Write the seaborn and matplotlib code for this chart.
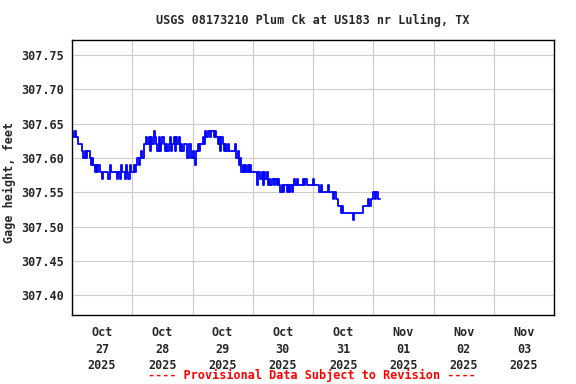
"""
Gage height hydrograph - USGS 08173210 Plum Ck at US183 nr Luling, TX
(provisional 30-min readings, Oct 27 - Nov 01 2025).
"""

import numpy as np
import pandas as pd
import matplotlib
matplotlib.use("Agg")
import matplotlib.pyplot as plt
import matplotlib.dates as mdates
from matplotlib.ticker import FixedLocator, FormatStrFormatter
import seaborn as sns

# gage height = BASE + hundredths, one value every 30 minutes from Oct 27 00:00
BASE = 307.0
oct27 = [64, 63, 64, 63, 63, 62, 62, 62, 61, 60, 61, 60, 61, 61, 60, 59,
         60, 59, 58, 59, 58, 59, 58, 58, 57, 58, 58, 58, 58, 57, 59, 58,
         58, 58, 58, 58, 57, 58, 57, 59, 58, 58, 57, 59, 58, 57, 59, 58]
oct28 = [58, 59, 58, 59, 60, 59, 60, 61, 60, 62, 62, 63, 62, 63, 61, 63,
         62, 64, 63, 62, 61, 63, 61, 62, 63, 62, 61, 62, 61, 62, 63, 61,
         62, 63, 61, 63, 62, 63, 61, 62, 61, 62, 62, 62, 60, 62, 62, 60]
oct29 = [61, 60, 59, 61, 62, 61, 62, 62, 63, 62, 64, 63, 64, 64, 63, 64,
         64, 63, 64, 63, 62, 63, 61, 63, 62, 61, 62, 61, 62, 61, 61, 61,
         61, 61, 62, 60, 61, 59, 60, 58, 59, 58, 59, 58, 59, 58, 59, 58]
oct30 = [58, 58, 58, 56, 58, 58, 57, 58, 56, 58, 57, 58, 56, 57, 56, 57,
         57, 56, 57, 56, 57, 56, 55, 56, 55, 56, 56, 55, 56, 55, 56, 55,
         56, 57, 56, 57, 56, 56, 56, 56, 57, 56, 57, 56, 56, 56, 56, 56]
oct31 = [57, 56, 56, 56, 56, 55, 56, 55, 55, 55, 55, 55, 56, 55, 55, 55,
         54, 55, 54, 54, 53, 53, 52, 53, 52, 52, 52, 52, 52, 52, 52, 52,
         51, 52, 52, 52, 52, 52, 52, 52, 53, 53, 53, 53, 54, 53, 54, 54]
nov01 = [55, 54, 55, 55, 54, 54]

y_ticks = [307.40, 307.45, 307.50, 307.55, 307.60, 307.65, 307.70, 307.75]
title = "USGS 08173210 Plum Ck at US183 nr Luling, TX"
footer = "---- Provisional Data Subject to Revision ----"

hundredths = oct27 + oct28 + oct29 + oct30 + oct31 + nov01
df = pd.DataFrame({
    "time": pd.date_range("2025-10-27 00:00", periods=len(hundredths), freq="30min"),
    "height": BASE + np.array(hundredths) / 100.0,
})

sns.set_style("white")
plt.rcParams["font.family"] = ["DejaVu Sans Mono"]
plt.rcParams["font.weight"] = "bold"
plt.rcParams["font.size"] = 8.5

fig = plt.figure(figsize=(5.76, 3.84), dpi=100)
ax = fig.add_axes([72 / 576, 1 - 315 / 384, 482 / 576, 275 / 384])

sns.lineplot(data=df, x="time", y="height", ax=ax, color="#0000FF",
             linewidth=1.3, drawstyle="steps-post", estimator=None)

ax.set_xlim(pd.Timestamp("2025-10-27"), pd.Timestamp("2025-11-04"))
ax.set_ylim(307.371, 307.772)

# gridlines at midnight, date labels centred at noon
ax.xaxis.set_major_locator(mdates.DayLocator())
ax.xaxis.set_major_formatter(plt.NullFormatter())
ax.xaxis.set_minor_locator(mdates.HourLocator(byhour=12))
ax.xaxis.set_minor_formatter(mdates.DateFormatter("%b\n%d\n%Y"))
ax.tick_params(axis="x", which="both", length=0, pad=8)
for lbl in ax.get_xticklabels(minor=True):
    lbl.set_linespacing(1.35)
    lbl.set_fontweight("bold")

ax.yaxis.set_major_locator(FixedLocator(y_ticks))
ax.yaxis.set_major_formatter(FormatStrFormatter("%.2f"))
ax.tick_params(axis="y", length=0, pad=6)

ax.grid(True, which="major", color="#CCCCCC", linewidth=0.8)
for s in ax.spines.values():
    s.set_color("black")
    s.set_linewidth(1.0)

ax.set_xlabel("")
ax.set_ylabel("Gage height, feet", fontweight="bold")
ax.yaxis.set_label_coords(-0.116, 0.482)

fig.text(313 / 576, 1 - 20 / 384, title, ha="center", va="center", fontweight="bold")
fig.text(312 / 576, 1 - 375 / 384, footer, ha="center", va="center",
         color="#FF0000", fontweight="bold")

fig.savefig("out.png", dpi=100)
